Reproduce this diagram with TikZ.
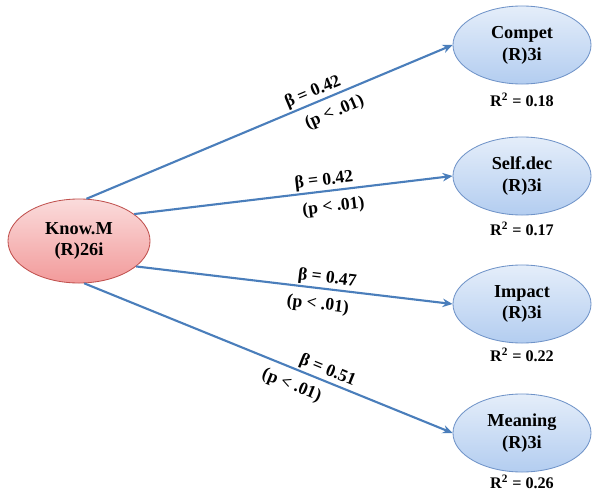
\documentclass[tikz,border=0pt]{standalone}
\usepackage{fontspec}
\setmainfont{Liberation Serif}
\usetikzlibrary{shapes.geometric,arrows.meta}
\definecolor{pathblue}{HTML}{4A7EBB}
\definecolor{predfill}{HTML}{F29A9A}
\definecolor{predline}{HTML}{C0504D}
\definecolor{outfill}{HTML}{B3CDF0}
\definecolor{outline}{HTML}{6F93C8}

\begin{document}
\begin{tikzpicture}[
    x=0.025cm, y=-0.025cm,
    pred/.style={ellipse, draw=predline, line width=0.6pt,
                 top color=predfill!35, bottom color=predfill,
                 minimum width=3.55cm, minimum height=2.1cm, inner sep=0pt,
                 font=\fontsize{13}{15.5}\selectfont\bfseries, align=center},
    outc/.style={ellipse, draw=outline, line width=0.6pt,
                 top color=outfill!35, bottom color=outfill,
                 minimum width=3.45cm, minimum height=1.95cm, inner sep=0pt,
                 font=\fontsize{13}{15.5}\selectfont\bfseries, align=center},
    rsq/.style={font=\fontsize{11.5}{13}\selectfont\bfseries},
    path/.style={pathblue, line width=1.5pt, -{Stealth[length=7pt,width=6pt]}},
    coef/.style={text=black, font=\fontsize{12.5}{14}\selectfont\bfseries, sloped},
    coefup/.style={coef, above, inner sep=1pt},
    coefdn/.style={coef, below, inner sep=5.5pt},
  ]
  \useasboundingbox (0,0) rectangle (593,493);

  % predictor
  \node[pred] (know) at (79,241) {Know.M\\(R)26i};

  % outcomes, one row every 129 px
  \node[outc] (compet)  at (522,45)  {Compet\\(R)3i};
  \node[outc] (selfdec) at (522,176) {Self.dec\\(R)3i};
  \node[outc] (impact)  at (522,304) {Impact\\(R)3i};
  \node[outc] (meaning) at (522,433) {Meaning\\(R)3i};

  % explained variance under each outcome
  \node[rsq] (rcompet)  at (522,100) {R\textsuperscript{2} = 0.18};
  \node[rsq] (rselfdec) at (522,229) {R\textsuperscript{2} = 0.17};
  \node[rsq] (rimpact)  at (522,355) {R\textsuperscript{2} = 0.22};
  \node[rsq] (rmeaning) at (522,482) {R\textsuperscript{2} = 0.26};

  % structural paths
  \draw[path] (know.80) -- (compet.west)
    node[coefup, pos=0.63] (b1) {β = 0.42}
    node[coefdn, pos=0.66] (p1) {(p < .01)};
  \draw[path] (know.26) -- (selfdec.west)
    node[coefup, pos=0.6] (b2) {β = 0.42}
    node[coefdn, pos=0.62] (p2) {(p < .01)};
  \draw[path] (know.-24) -- (impact.west)
    node[coefup, pos=0.6] (b3) {β = 0.47}
    node[coefdn, pos=0.58] (p3) {(p < .01)};
  \draw[path] (know.-83) -- (meaning.west)
    node[coefup, pos=0.65] (b4) {β = 0.51}
    node[coefdn, pos=0.58] (p4) {(p < .01)};
\end{tikzpicture}
\end{document}
